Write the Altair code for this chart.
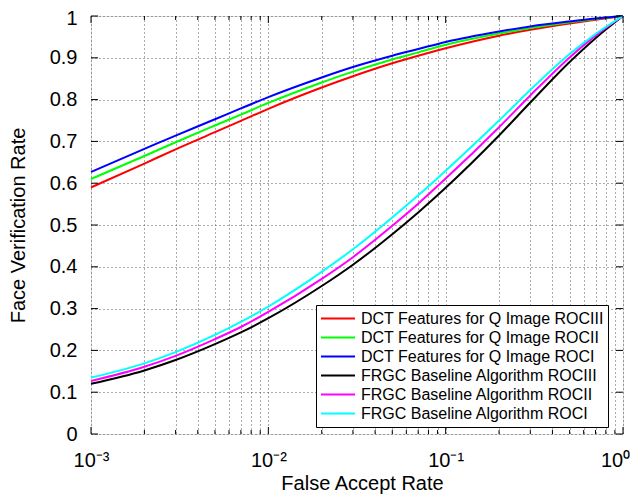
import altair as alt
import pandas as pd

# ---- data ----
far = [0.001, 0.002, 0.003, 0.005, 0.007, 0.01, 0.02, 0.03, 0.05, 0.07,
       0.1, 0.2, 0.3, 0.5, 0.7, 1.0]

dct_rociii = [0.590, 0.647, 0.681, 0.722, 0.749, 0.778, 0.829, 0.856, 0.887, 0.905,
              0.923, 0.953, 0.967, 0.982, 0.991, 1.0]
dct_rocii = [0.610, 0.665, 0.698, 0.738, 0.764, 0.792, 0.841, 0.867, 0.896, 0.913,
             0.931, 0.958, 0.971, 0.985, 0.993, 1.0]
dct_roci = [0.627, 0.682, 0.714, 0.753, 0.779, 0.806, 0.853, 0.878, 0.905, 0.921,
            0.938, 0.963, 0.975, 0.987, 0.994, 1.0]
frgc_rociii = [0.120, 0.152, 0.177, 0.215, 0.243, 0.277, 0.354, 0.405, 0.478, 0.530,
               0.589, 0.714, 0.793, 0.890, 0.947, 1.0]
frgc_rocii = [0.127, 0.161, 0.187, 0.227, 0.256, 0.292, 0.371, 0.423, 0.498, 0.551,
              0.611, 0.734, 0.810, 0.901, 0.953, 1.0]
frgc_roci = [0.135, 0.169, 0.196, 0.237, 0.268, 0.305, 0.388, 0.442, 0.518, 0.571,
             0.630, 0.750, 0.823, 0.909, 0.957, 1.0]

series_names = [
    "DCT Features for Q Image ROCIII",
    "DCT Features for Q Image ROCII",
    "DCT Features for Q Image ROCI",
    "FRGC Baseline Algorithm ROCIII",
    "FRGC Baseline Algorithm ROCII",
    "FRGC Baseline Algorithm ROCI",
]
series_colors = ["#ff0000", "#00ff00", "#0000ff", "#000000", "#ff00ff", "#00ffff"]

x_major = [0.001, 0.01, 0.1, 1.0]
x_minor = [k * 10.0 ** e for e in (-3, -2, -1) for k in range(2, 10)]
y_ticks = [0.0, 0.1, 0.2, 0.3, 0.4, 0.5, 0.6, 0.7, 0.8, 0.9, 1.0]

# ---- tables ----
all_series = [dct_rociii, dct_rocii, dct_roci, frgc_rociii, frgc_rocii, frgc_roci]
rows = []
for name, vals in zip(series_names, all_series):
    for f, v in zip(far, vals):
        rows.append({"far": f, "fvr": v, "series": name})
df = pd.DataFrame(rows)

W, H = 532, 418
FONT = "Liberation Sans"
xscale = alt.Scale(type="log", domain=[0.001, 1.0])
yscale = alt.Scale(domain=[0, 1])

label_expr = ("datum.value == 0.001 ? '10⁻³' : datum.value == 0.01 ? '10⁻²' : "
              "datum.value == 0.1 ? '10⁻¹' : datum.value == 1 ? '10⁰' : ''")

x_axis = alt.Axis(values=sorted(x_major + x_minor), labelExpr=label_expr,
                  grid=True, gridDash=[1, 3], gridColor="#555555", gridWidth=1,
                  ticks=False, tickSize=0, domain=False,
                  labelFontSize=20, labelFont=FONT, labelColor="black",
                  labelPadding=16, labelOverlap=False, labelFlush=False,
                  labelBound=False,
                  labelOffset={"condition": {"test": "datum.value == 1", "value": -8},
                               "value": 0},
                  title="False Accept Rate", titleFontSize=20, titleFont=FONT,
                  titleFontWeight="normal", titleColor="black", titlePadding=3,
                  titleX=271)
y_axis = alt.Axis(values=y_ticks, format="~g",
                  grid=True, gridDash=[1, 3], gridColor="#555555", gridWidth=1,
                  ticks=False, tickSize=0, domain=False,
                  labelFontSize=20, labelFont=FONT, labelColor="black",
                  labelPadding=14, labelOverlap=False, labelFlush=False,
                  labelOffset={"condition": {"test": "datum.value == 1", "value": 2},
                               "value": 0},
                  title="Face Verification Rate", titleFontSize=20, titleFont=FONT,
                  titleFontWeight="normal", titleColor="black", titlePadding=21)

lines = alt.Chart(df).mark_line(strokeWidth=2, interpolate="monotone").encode(
    x=alt.X("far:Q", scale=xscale, axis=x_axis),
    y=alt.Y("fvr:Q", scale=yscale, axis=y_axis),
    color=alt.Color("series:N",
                    scale=alt.Scale(domain=series_names, range=series_colors),
                    sort=series_names,
                    legend=alt.Legend(title=None, orient="none", legendX=225, legendY=289,
                                      symbolType="stroke", symbolSize=1156,
                                      symbolStrokeWidth=2, clipHeight=19, rowPadding=0,
                                      symbolOffset=0, labelOffset=5,
                                      labelFontSize=16, labelFont=FONT, labelColor="black",
                                      labelLimit=400, strokeColor="black",
                                      fillColor="white", padding=4)),
)

yt = pd.DataFrame({"v": y_ticks})
xt_major = pd.DataFrame({"v": x_major})
xt_minor = pd.DataFrame({"v": x_minor})

ytick_l = alt.Chart(yt).mark_rule(color="black", strokeWidth=1).encode(
    y=alt.Y("v:Q", scale=yscale, axis=y_axis), x=alt.value(0), x2=alt.value(7))
ytick_r = alt.Chart(yt).mark_rule(color="black", strokeWidth=1).encode(
    y=alt.Y("v:Q", scale=yscale, axis=y_axis), x=alt.value(W - 7), x2=alt.value(W))
xtick_b = alt.Chart(xt_major).mark_rule(color="black", strokeWidth=1).encode(
    x=alt.X("v:Q", scale=xscale, axis=x_axis), y=alt.value(H - 7), y2=alt.value(H))
xtick_t = alt.Chart(xt_major).mark_rule(color="black", strokeWidth=1).encode(
    x=alt.X("v:Q", scale=xscale, axis=x_axis), y=alt.value(0), y2=alt.value(7))
xmin_b = alt.Chart(xt_minor).mark_rule(color="black", strokeWidth=1).encode(
    x=alt.X("v:Q", scale=xscale, axis=x_axis), y=alt.value(H - 4), y2=alt.value(H))
xmin_t = alt.Chart(xt_minor).mark_rule(color="black", strokeWidth=1).encode(
    x=alt.X("v:Q", scale=xscale, axis=x_axis), y=alt.value(0), y2=alt.value(4))

chart = alt.layer(lines, ytick_l, ytick_r, xtick_b, xtick_t, xmin_b, xmin_t).properties(
    width=W, height=H,
    autosize=alt.AutoSizeParams(type="none"),
    padding={"left": 83, "top": 8, "right": 7, "bottom": 61},
    background="white",
).configure_view(stroke="black", strokeWidth=1.5).configure(font=FONT)

chart.save("out.html", embed_options={"renderer": "svg", "actions": False})
